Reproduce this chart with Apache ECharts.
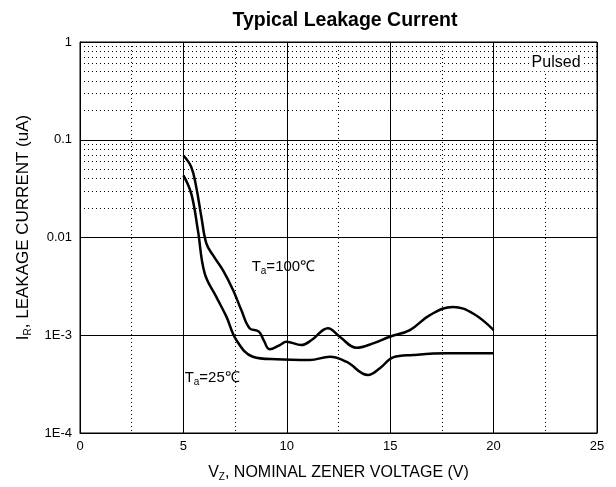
<!DOCTYPE html>
<html><head><meta charset="utf-8">
<script src="https://cdn.jsdelivr.net/npm/echarts@6/dist/echarts.min.js"></script>
<style>html,body{margin:0;padding:0;background:#fff}#c{width:616px;height:487px}</style>
</head><body><div id="c"></div>
<script>
// Ta = 100 C curve: [Vz, IR(uA)]
var vz100 = [5.0, 5.38, 5.62, 5.87, 6.11, 6.43, 6.91, 7.40, 7.80, 8.20, 8.65, 8.88, 9.17, 9.66, 9.98, 10.71, 11.2, 11.99, 12.56, 13.37, 14.17, 14.98, 15.95, 16.92, 18.04, 19.01, 20.0];
var ir100 = [0.069, 0.0526, 0.0329, 0.0162, 0.00869, 0.00659, 0.00463, 0.0029, 0.00181, 0.00118, 0.00109, 0.000893, 0.000718, 0.000794, 0.000859, 0.000794, 0.000893, 0.00118, 0.000966, 0.000745, 0.000826, 0.000966, 0.00113, 0.00161, 0.00195, 0.00167, 0.00113];
// Ta = 25 C curve
var vz25 = [5.0, 5.38, 5.70, 6.03, 6.59, 7.08, 7.56, 8.36, 9.50, 11.11, 12.08, 12.88, 13.93, 14.50, 15.14, 16.11, 17.73, 20.0];
var ir25 = [0.0433, 0.0281, 0.0119, 0.00429, 0.00247, 0.00155, 0.000893, 0.000603, 0.000567, 0.000558, 0.000603, 0.000536, 0.000392, 0.000459, 0.000594, 0.000628, 0.000653, 0.000653];
var yTickLabels = ['1E-4', '1E-3', '0.01', '0.1', '1'];
var xTickLabels = ['0', '5', '10', '15', '20', '25'];

function zip(a, b) { return a.map(function (v, i) { return [v, b[i]]; }); }

var minorLines = [];
for (var d = -4; d < 0; d++) {
  for (var k = 2; k <= 9; k++) minorLines.push({ yAxis: k * Math.pow(10, d) });
}

var FONT = 'Liberation Sans, Arial, sans-serif';
var richSub = function (size, subSize, pad) {
  return {
    a: { fontFamily: FONT, fontSize: size, color: '#000' },
    s: { fontFamily: FONT, fontSize: subSize, color: '#000', verticalAlign: 'bottom', padding: [pad, 0, 0, 0] }
  };
};
var chart = echarts.init(document.getElementById('c'));
chart.setOption({
  animation: false,
  backgroundColor: '#fff',
  title: {
    text: 'Typical Leakage Current', left: 340, textAlign: 'center', top: 6,
    textStyle: { fontFamily: FONT, fontSize: 19.5, fontWeight: 'bold', color: '#000' }
  },
  grid: { left: 80, right: 19, top: 42, bottom: 54, show: true, borderColor: '#000', borderWidth: 1 },
  xAxis: {
    type: 'value', min: 0, max: 25, interval: 5,
    name: '{a|V}{s|Z}{a|, NOMINAL ZENER VOLTAGE (V)}',
    nameLocation: 'middle', nameGap: 30,
    nameTextStyle: { rich: richSub(16, 10, 9) },
    axisLine: { lineStyle: { color: '#000', width: 1 } },
    axisTick: { show: false },
    axisLabel: { color: '#000', fontFamily: FONT, fontSize: 13, margin: 7,
      formatter: function (v) { return xTickLabels[Math.round(v / 5)]; } },
    splitLine: { show: true, lineStyle: { color: '#000', width: 1 } },
    minorTick: { show: false, splitNumber: 2 },
    minorSplitLine: { show: true, lineStyle: { color: '#000', width: 1, type: [1, 3] } }
  },
  yAxis: {
    type: 'log', logBase: 10, min: 0.0001, max: 1,
    name: '{a|I}{s|R}{a|, LEAKAGE CURRENT (uA)}',
    nameLocation: 'middle', nameGap: 46, nameRotate: 90,
    nameTextStyle: { padding: [0, 0, 0, 20], rich: richSub(17, 10, 10) },
    axisLine: { lineStyle: { color: '#000', width: 1 } },
    axisTick: { show: false },
    axisLabel: { color: '#000', fontFamily: FONT, fontSize: 13, margin: 8,
      formatter: function (v) { return yTickLabels[Math.round(Math.log10(v)) + 4]; } },
    splitLine: { show: true, lineStyle: { color: '#000', width: 1 } }
  },
  series: [
    {
      type: 'line', data: zip(vz100, ir100), showSymbol: false, smooth: 0.4,
      lineStyle: { color: '#000', width: 2.5 },
      markLine: {
        silent: true, symbol: 'none', label: { show: false },
        lineStyle: { color: '#000', width: 1, type: [1, 3] },
        data: minorLines
      },
      markPoint: {
        symbol: 'circle', symbolSize: 0,
        label: { show: true, position: 'right', distance: 0,
          formatter: '{a|T}{s|a}{a|=100℃}', rich: richSub(15, 10, 9) },
        data: [{ coord: [8.3, 0.00497] }]
      },
      z: 5
    },
    {
      type: 'line', data: zip(vz25, ir25), showSymbol: false, smooth: 0.4,
      lineStyle: { color: '#000', width: 2.5 },
      markPoint: {
        symbol: 'circle', symbolSize: 0,
        label: { show: true, position: 'right', distance: 0,
          formatter: '{a|T}{s|a}{a|=25℃}', rich: richSub(15, 10, 9) },
        data: [{ coord: [5.06, 0.000365] }]
      },
      z: 5
    },
    {
      type: 'line', data: [], markPoint: {
        symbol: 'circle', symbolSize: 0,
        label: { show: true, position: 'left', distance: 0, formatter: 'Pulsed',
          fontFamily: FONT, fontSize: 16, color: '#000', backgroundColor: '#fff', padding: [1, 2] },
        data: [{ coord: [24.3, 0.62] }]
      }
    }
  ]
});
</script>
</body></html>
